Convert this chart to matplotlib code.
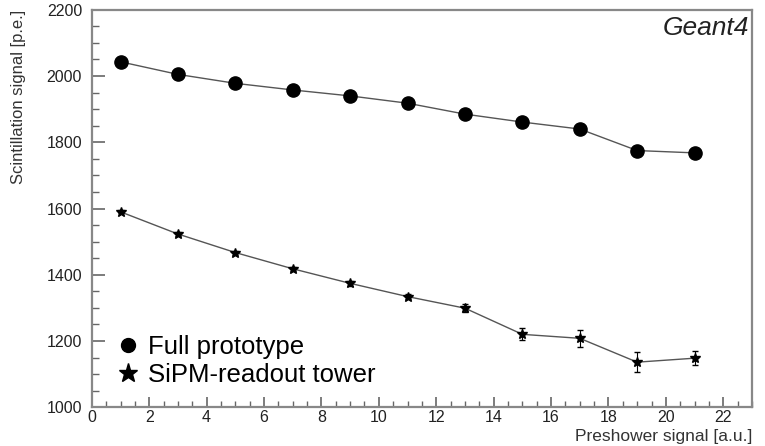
import matplotlib
matplotlib.use("Agg")
import matplotlib.pyplot as plt
from matplotlib.ticker import MultipleLocator
from matplotlib.lines import Line2D

# preshower signal bins
preshower = [1, 3, 5, 7, 9, 11, 13, 15, 17, 19, 21]

# full prototype (circles)
full_proto = [2043, 2005, 1978, 1958, 1940, 1918, 1885, 1861, 1840, 1775, 1768]
full_err = [6, 6, 6, 6, 6, 6, 7, 8, 8, 10, 10]

# SiPM-readout tower (stars)
sipm = [1590, 1523, 1467, 1418, 1374, 1334, 1299, 1220, 1208, 1136, 1148]
sipm_err = [5, 5, 6, 6, 7, 8, 12, 18, 25, 30, 22]

plt.rcParams['font.family'] = ['Liberation Sans', 'DejaVu Sans']

fig = plt.figure(figsize=(7.65, 4.46), dpi=100)
ax = fig.add_axes([0.120, 0.087, 0.863, 0.891])

ax.errorbar(preshower, full_proto, yerr=full_err, fmt='o', color='black',
            ms=9.5, ecolor='black', elinewidth=0.8, capsize=0, zorder=3)
ax.plot(preshower, full_proto, color='#555555', lw=1.0, zorder=2)

ax.errorbar(preshower, sipm, yerr=sipm_err, fmt='*', color='black',
            ms=7, ecolor='black', elinewidth=0.8, capsize=2.5, zorder=3)
ax.plot(preshower, sipm, color='#555555', lw=1.0, zorder=2)

ax.set_xlim(0, 23)
ax.set_ylim(1000, 2200)
ax.xaxis.set_major_locator(MultipleLocator(2))
ax.xaxis.set_minor_locator(MultipleLocator(0.5))
ax.yaxis.set_major_locator(MultipleLocator(200))
ax.yaxis.set_minor_locator(MultipleLocator(50))
ax.tick_params(which='both', direction='in', top=False, right=False,
               color='#666666', labelsize=11.5, labelcolor='#222222')
ax.tick_params(axis='y', which='major', length=9.5, width=1.2, pad=7)
ax.tick_params(axis='y', which='minor', length=5, width=1.0)
ax.tick_params(axis='x', which='major', length=7.5, width=1.2, pad=2)
ax.tick_params(axis='x', which='minor', length=4, width=1.0)
for s in ax.spines.values():
    s.set_color('#888888')
    s.set_linewidth(1.6)

ax.set_xlabel('Preshower signal [a.u.]', fontsize=12.5, color='#333333')
ax.xaxis.set_label_coords(1.0, -0.055)
ax.xaxis.label.set_horizontalalignment('right')
ax.xaxis.label.set_verticalalignment('top')
ax.set_ylabel('Scintillation signal [p.e.]', fontsize=12, color='#333333')
ax.yaxis.set_label_coords(-0.1, 1.0)
ax.yaxis.label.set_verticalalignment('bottom')
ax.yaxis.label.set_horizontalalignment('right')

ax.text(0.995, 0.985, 'Geant4', transform=ax.transAxes, ha='right', va='top',
        fontsize=19, style='italic', color='#222222')

handles = [Line2D([], [], marker='o', ls='none', color='black', ms=10),
           Line2D([], [], marker='*', ls='none', color='black', ms=14)]
ax.legend(handles, ['Full prototype', 'SiPM-readout tower'], loc='lower left',
          bbox_to_anchor=(0.0, 0.0), frameon=False, fontsize=18.5,
          handletextpad=0.2, labelspacing=0.15, handlelength=1.2,
          borderaxespad=0.4)

fig.savefig('out.png', dpi=100)
